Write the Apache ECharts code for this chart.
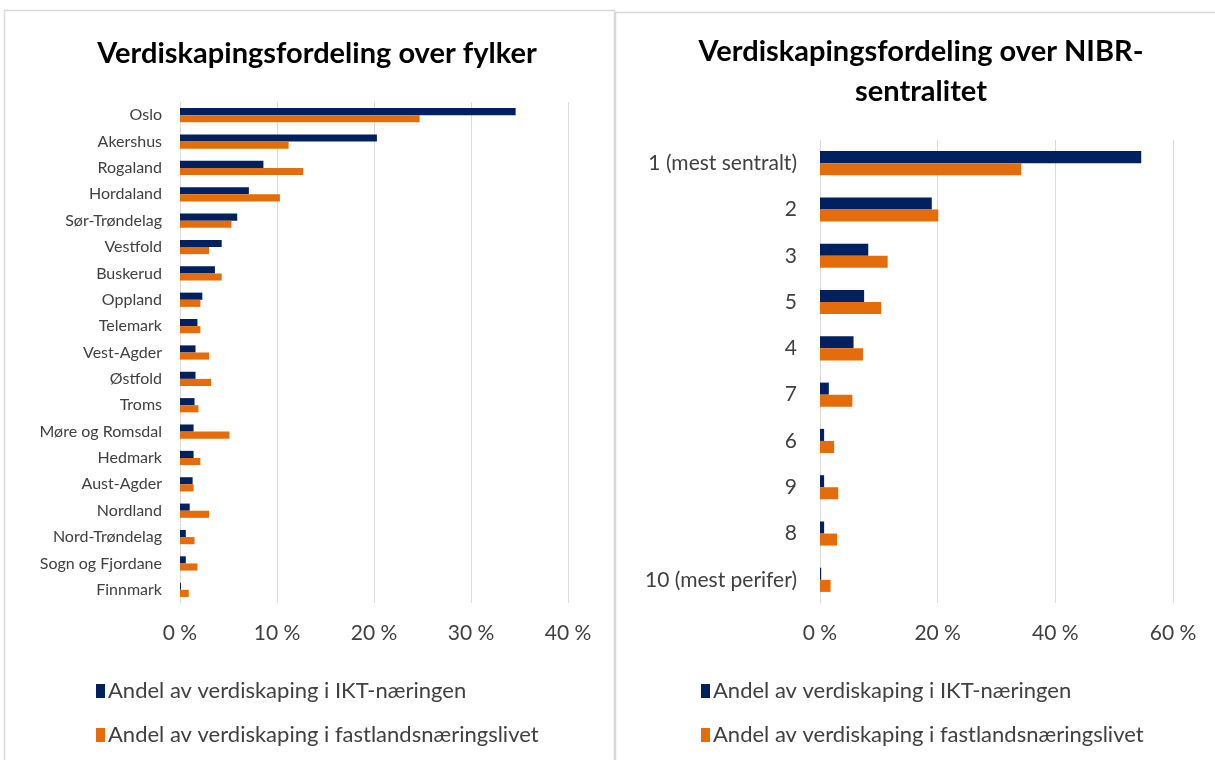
<!DOCTYPE html>
<html>
<head>
<meta charset="utf-8">
<script src="https://cdn.jsdelivr.net/npm/echarts@6/dist/echarts.min.js"></script>
<style>
  html, body { margin: 0; padding: 0; background: #fff; }
  #chart { width: 1215px; height: 760px; }
</style>
</head>
<body>
<div id="chart"></div>
<script>
// Data (percent shares)
const fylker = ['Oslo', 'Akershus', 'Rogaland', 'Hordaland', 'Sør-Trøndelag', 'Vestfold',
  'Buskerud', 'Oppland', 'Telemark', 'Vest-Agder', 'Østfold', 'Troms', 'Møre og Romsdal',
  'Hedmark', 'Aust-Agder', 'Nordland', 'Nord-Trøndelag', 'Sogn og Fjordane', 'Finnmark'];
const fylkerIkt = [34.6, 20.3, 8.6, 7.1, 5.9, 4.3, 3.6, 2.3, 1.8, 1.6, 1.6, 1.5, 1.4, 1.4, 1.3, 1.0, 0.6, 0.6, 0.1];
const fylkerFastland = [24.7, 11.2, 12.7, 10.3, 5.3, 3.0, 4.3, 2.1, 2.1, 3.0, 3.2, 1.9, 5.1, 2.1, 1.4, 3.0, 1.5, 1.8, 0.9];

const sentralitet = ['1 (mest sentralt)', '2', '3', '5', '4', '7', '6', '9', '8', '10 (mest perifer)'];
const sentralIkt = [54.6, 19.0, 8.2, 7.5, 5.7, 1.5, 0.7, 0.7, 0.7, 0.2];
const sentralFastland = [34.2, 20.1, 11.5, 10.4, 7.3, 5.5, 2.4, 3.1, 2.9, 1.8];

const seriesNames = ['Andel av verdiskaping i IKT-næringen', 'Andel av verdiskaping i fastlandsnæringslivet'];
const navy = '#002060';
const orange = '#E46C0A';
const font = 'Lato, "Open Sans", sans-serif';

const chart = echarts.init(document.getElementById('chart'), null, { renderer: 'canvas' });

function valueAxis(grid, max, interval) {
  return {
    type: 'value', gridIndex: grid, min: 0, max: max, interval: interval,
    axisLine: { show: false }, axisTick: { show: false },
    splitLine: { lineStyle: { color: '#d9d9d9', width: 1 } },
    axisLabel: { formatter: '{value} %', fontSize: 21, color: '#404040', fontFamily: font, margin: 20 }
  };
}

function catAxis(grid, data, size, margin) {
  return {
    type: 'category', gridIndex: grid, data: data, inverse: true,
    axisLine: { show: false }, axisTick: { show: false },
    axisLabel: { fontSize: size, color: '#404040', fontFamily: font, margin: margin, interval: 0 }
  };
}

function legend(left) {
  return {
    left: left, top: 675, orient: 'vertical', itemGap: 22,
    icon: 'rect', itemWidth: 9, itemHeight: 14,
    textStyle: { fontSize: 22, color: '#404040', fontFamily: font, padding: [0, 0, 0, -2] },
    data: seriesNames
  };
}

chart.setOption({
  animation: false,
  graphic: [
    { type: 'rect', shape: { x: 4.5, y: 10.5, width: 610, height: 760 }, style: { fill: 'none', stroke: '#d9d9d9', lineWidth: 1.5 } },
    { type: 'rect', shape: { x: 615.5, y: 12.5, width: 610, height: 760 }, style: { fill: 'none', stroke: '#d9d9d9', lineWidth: 1.5 } }
  ],
  title: [
    { text: 'Verdiskapingsfordeling over fylker', left: 312, top: 34, textAlign: 'center',
      textStyle: { fontSize: 29, fontWeight: 'bold', color: '#000', fontFamily: font } },
    { text: 'Verdiskapingsfordeling over NIBR-\nsentralitet', left: 916, top: 27, textAlign: 'center',
      textStyle: { fontSize: 29, fontWeight: 'bold', color: '#000', fontFamily: font, lineHeight: 40 } }
  ],
  legend: [legend(91), legend(696)],
  grid: [
    { left: 180, right: 647, top: 102, bottom: 157 },
    { left: 820, right: 42, top: 140, bottom: 157 }
  ],
  xAxis: [valueAxis(0, 40, 10), valueAxis(1, 60, 20)],
  yAxis: [catAxis(0, fylker, 16, 18), catAxis(1, sentralitet, 21, 23)],
  series: [
    { name: seriesNames[0], type: 'bar', xAxisIndex: 0, yAxisIndex: 0, data: fylkerIkt,
      itemStyle: { color: navy }, barGap: '0%', barCategoryGap: '46%' },
    { name: seriesNames[1], type: 'bar', xAxisIndex: 0, yAxisIndex: 0, data: fylkerFastland,
      itemStyle: { color: orange } },
    { name: seriesNames[0], type: 'bar', xAxisIndex: 1, yAxisIndex: 1, data: sentralIkt,
      itemStyle: { color: navy }, barGap: '0%', barCategoryGap: '48%' },
    { name: seriesNames[1], type: 'bar', xAxisIndex: 1, yAxisIndex: 1, data: sentralFastland,
      itemStyle: { color: orange } }
  ]
});
</script>
</body>
</html>
